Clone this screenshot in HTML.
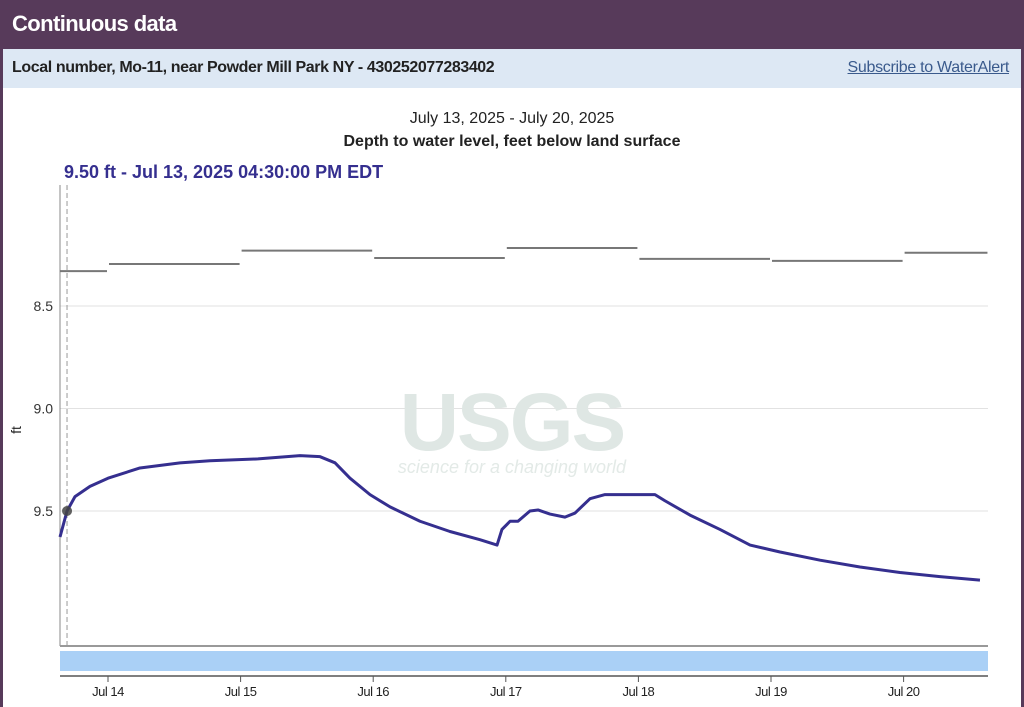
<!DOCTYPE html>
<html><head><meta charset="utf-8"><style>
html,body{margin:0;padding:0;width:1024px;height:707px;overflow:hidden;background:#573a5a;font-family:"Liberation Sans",sans-serif;}
#wrap{position:absolute;left:3px;top:0;width:1018px;height:707px;background:#fff;}
#hdr{position:absolute;left:-3px;top:0;width:1024px;height:49px;background:#573a5a;color:#fff;font-weight:bold;font-size:22px;}
#hdr span{position:absolute;left:12px;top:11px;letter-spacing:-0.6px;}
#sub{position:absolute;left:0;top:49px;width:1018px;height:39px;background:#dde8f4;font-size:16px;}
#sub .t{position:absolute;left:9px;top:10px;font-weight:bold;color:#222;letter-spacing:-0.4px;}
#sub a{position:absolute;right:12px;top:10px;color:#3a5a8c;text-decoration:underline;letter-spacing:-0.3px;}
</style></head><body>
<div id="wrap">
<div id="hdr"><span>Continuous data</span></div>
<div id="sub">
<span class="t">Local number, Mo-11, near Powder Mill Park NY - 430252077283402</span>
<a>Subscribe to WaterAlert</a>
</div>
</div>
<svg id="chart" width="1024" height="707" style="position:absolute;left:0;top:0">
<text x="512" y="123" text-anchor="middle" font-size="16" fill="#222">July 13, 2025 - July 20, 2025</text>
<text x="512" y="146" text-anchor="middle" font-size="16" font-weight="bold" fill="#222">Depth to water level, feet below land surface</text>
<text x="64" y="178" font-size="18" font-weight="bold" fill="#352f8f">9.50 ft - Jul 13, 2025 04:30:00 PM EDT</text>
<g id="grid"></g>
<g>
<text x="512" y="450" text-anchor="middle" font-size="82" font-weight="bold" fill="#dfe7e4" letter-spacing="-2">USGS</text>
<text x="512" y="473" text-anchor="middle" font-size="18" font-style="italic" fill="#e3eae7">science for a changing world</text>
</g>
<g id="gray"></g><g id="blue"></g><g id="xax"></g>
</svg>
<script>
const yTicks=[8.5,9.0,9.5];
const xTickDays=[14,15,16,17,18,19,20];
const xTickLabels=["Jul 14","Jul 15","Jul 16","Jul 17","Jul 18","Jul 19","Jul 20"];
const grayStarts=[13.638,14,15,16,17,18,19,20];
const grayEnds=[14,15,16,17,18,19,20,20.64];
const grayValues=[8.33,8.295,8.23,8.266,8.217,8.27,8.28,8.24];
const blueDays=[13.638,13.691,13.751,13.864,14,14.241,14.543,14.769,15.131,15.448,15.599,15.712,15.825,15.976,16.127,16.353,16.579,16.805,16.934,16.971,17.032,17.092,17.182,17.243,17.333,17.446,17.522,17.635,17.748,18.125,18.2,18.389,18.615,18.842,19.068,19.37,19.671,19.973,20.274,20.576];
const blueValues=[9.627,9.5,9.43,9.38,9.34,9.29,9.265,9.255,9.246,9.23,9.235,9.265,9.34,9.42,9.48,9.55,9.6,9.64,9.666,9.59,9.55,9.55,9.5,9.495,9.515,9.53,9.51,9.44,9.42,9.42,9.45,9.52,9.59,9.666,9.7,9.74,9.773,9.8,9.82,9.837];
const cursorDay=13.691, cursorVal=9.5;
const X0=60,X1=988,Ytop=185,Ybot=646;
const x=d=>108+(d-14)*132.6;
const y=v=>306+(v-8.5)*205;
const NS="http://www.w3.org/2000/svg";
function mk(t,a,p){const e=document.createElementNS(NS,t);for(const k in a)e.setAttribute(k,a[k]);p.appendChild(e);return e;}
const grid=document.getElementById('grid');
yTicks.forEach(v=>{
 let l=mk('line',{x1:X0,x2:X1,y1:y(v),y2:y(v),stroke:'#e2e2e2','stroke-width':1},grid);
 
 
 let t=mk('text',{x:53,y:y(v)+5,'text-anchor':'end','font-size':14,fill:'#333'},grid);t.textContent=v.toFixed(1);
 
 
});
let yl=mk('line',{x1:X0,x2:X0,y1:Ytop,y2:Ybot,stroke:'#888','stroke-width':1},grid);


let yt=mk('text',{x:0,y:0,transform:'translate(21,430) rotate(-90)','text-anchor':'middle','font-size':14,fill:'#222'},grid);yt.textContent='ft';


let bl=mk('line',{x1:X0,x2:X1,y1:Ybot,y2:Ybot,stroke:'#999','stroke-width':2},grid);


let cl=mk('line',{x1:x(cursorDay),x2:x(cursorDay),y1:Ytop,y2:Ybot,stroke:'#999','stroke-width':1,'stroke-dasharray':'5,3'},grid);


const gray=document.getElementById('gray');
grayValues.forEach((v,i)=>{
 let l=mk('line',{x1:x(grayStarts[i])+(i?1:0),x2:x(grayEnds[i])-1,y1:y(v),y2:y(v),stroke:'#777','stroke-width':2},gray);
 
 
});
const blue=document.getElementById('blue');
let p=mk('polyline',{points:blueDays.map((d,i)=>x(d)+','+y(blueValues[i])).join(' '),fill:'none',stroke:'#352f8f','stroke-width':3,'stroke-linejoin':'round'},blue);


let c=mk('circle',{cx:x(cursorDay),cy:y(cursorVal),r:5,fill:'#444',opacity:0.85},blue);


const xax=document.getElementById('xax');
let br=mk('rect',{x:X0,y:651,width:X1-X0,height:20,fill:'#aad0f6'},xax);


let xl=mk('line',{x1:X0,x2:X1,y1:676,y2:676,stroke:'#555','stroke-width':1.5},xax);


xTickDays.forEach((d,i)=>{
 let tk=mk('line',{x1:x(d),x2:x(d),y1:676,y2:682,stroke:'#555'},xax);
 
 
 let t=mk('text',{x:x(d),y:696,'text-anchor':'middle','font-size':13,fill:'#222','letter-spacing':'-0.5'},xax);t.textContent=xTickLabels[i];
 
 
});
</script>
</body></html>
